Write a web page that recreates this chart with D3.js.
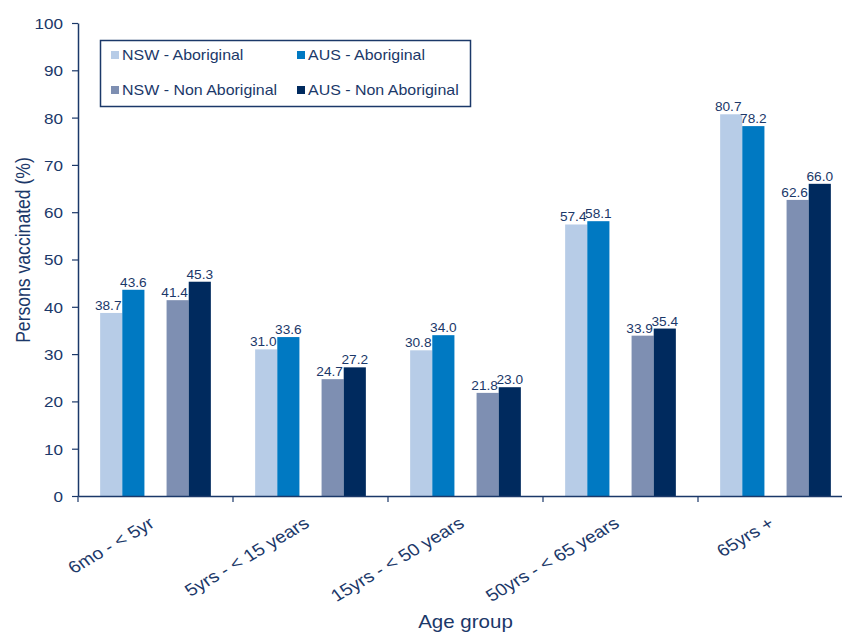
<!DOCTYPE html>
<html>
<head>
<meta charset="utf-8">
<script src="https://cdn.jsdelivr.net/npm/d3@7"></script>
<style>
  html, body { margin: 0; padding: 0; background: #fff; }
  svg { display: block; font-family: Arial, "Liberation Sans", Helvetica, sans-serif; }
</style>
</head>
<body>
<svg id="chart" width="842" height="635"></svg>
<script>
const categories = ["6mo - < 5yr", "5yrs - < 15 years", "15yrs - < 50 years", "50yrs - < 65 years", "65yrs +"];
const seriesNames = ["NSW - Aboriginal", "AUS - Aboriginal", "NSW - Non Aboriginal", "AUS - Non Aboriginal"];
const nswAboriginal    = [38.7, 31.0, 30.8, 57.4, 80.7];
const ausAboriginal    = [43.6, 33.6, 34.0, 58.1, 78.2];
const nswNonAboriginal = [41.4, 24.7, 21.8, 33.9, 62.6];
const ausNonAboriginal = [45.3, 27.2, 23.0, 35.4, 66.0];
const yTicks = [0, 10, 20, 30, 40, 50, 60, 70, 80, 90, 100];

const seriesValues = [nswAboriginal, ausAboriginal, nswNonAboriginal, ausNonAboriginal];
const colors = ["#b7cce7", "#0079c2", "#7e8fb2", "#002a5e"];
const ink = "#1b3869";
const SX = 1.14; // text in the reference is slightly wide

const svg = d3.select("#chart");
const mLeft = 78, mRight = 853, mTop = 23, mBottom = 496;

const x0 = d3.scaleBand().domain(categories).range([mLeft, mRight]).padding(0);
// each group split into 7 slots: pad, bar, bar, gap, bar, bar, pad
const slot = d3.scaleBand().domain(d3.range(7)).range([0, x0.bandwidth()]).padding(0);
const slotOf = [1, 2, 4, 5];
const y = d3.scaleLinear().domain([0, 100]).range([mBottom, mTop]);

const data = [];
categories.forEach((c, i) => {
  seriesValues.forEach((vals, s) => data.push({cat: c, s, v: vals[i]}));
});

// bars
svg.append("g").selectAll("rect").data(data).join("rect")
  .attr("x", d => x0(d.cat) + slot(slotOf[d.s]))
  .attr("y", d => y(d.v))
  .attr("width", slot.bandwidth())
  .attr("height", d => y(0) - y(d.v))
  .attr("fill", d => colors[d.s]);

// value labels
svg.append("g").selectAll("text").data(data).join("text")
  .attr("transform", d => {
    const cx = x0(d.cat) + slot(slotOf[d.s]) + slot.bandwidth() / 2 + (d.s % 2 === 0 ? -3 : 0);
    return `translate(${cx},${y(d.v) - 3}) scale(${SX},1)`;
  })
  .attr("text-anchor", "middle")
  .attr("font-size", 12)
  .attr("fill", ink)
  .text(d => d.v.toFixed(1));

// y axis
const yAxis = svg.append("g").attr("transform", `translate(${mLeft},0)`)
  .call(d3.axisLeft(y).tickValues(yTicks).tickSize(6).tickSizeOuter(0));
yAxis.attr("font-family", null);
yAxis.select(".domain").attr("stroke", ink).attr("stroke-width", 1.5);
yAxis.selectAll(".tick line").attr("stroke", ink).attr("stroke-width", 1.2);
yAxis.selectAll(".tick text")
  .attr("x", 0).attr("dy", "0.36em")
  .attr("transform", `translate(-15,0) scale(${SX},1)`)
  .attr("fill", ink).attr("font-size", 15);

// x axis
const xAxis = svg.append("g").attr("transform", `translate(0,${mBottom})`)
  .call(d3.axisBottom(x0).tickSize(0).tickFormat(""));
xAxis.select(".domain").attr("stroke", ink).attr("stroke-width", 1.5);
xAxis.selectAll(".tick").remove();
const bounds = categories.map(c => x0(c));
xAxis.selectAll("line.bound").data(bounds).join("line")
  .attr("class", "bound")
  .attr("x1", d => d).attr("x2", d => d)
  .attr("y1", 0).attr("y2", 6)
  .attr("stroke", ink).attr("stroke-width", 1.2);

// x category labels
svg.append("g").selectAll("text").data(categories).join("text")
  .attr("transform", c => `translate(${x0(c) + x0.bandwidth() / 2},${mBottom + 30}) scale(${SX},1) rotate(-34)`)
  .attr("text-anchor", "end")
  .attr("font-size", 17)
  .attr("fill", ink)
  .text(c => c);

// axis titles
svg.append("text")
  .attr("transform", `translate(30,250) scale(${SX},1) rotate(-90)`)
  .attr("text-anchor", "middle")
  .attr("font-size", 17.6)
  .attr("fill", ink)
  .text("Persons vaccinated (%)");

svg.append("text")
  .attr("transform", `translate(${(mLeft + mRight) / 2},628) scale(${SX},1)`)
  .attr("text-anchor", "middle")
  .attr("font-size", 18)
  .attr("fill", ink)
  .text("Age group");

// legend
const lg = svg.append("g");
lg.append("rect").attr("x", 100.5).attr("y", 40.5).attr("width", 370).attr("height", 66)
  .attr("fill", "#fff").attr("stroke", ink).attr("stroke-width", 1.5);
const legPos = [[111, 60], [297, 60], [111, 95], [297, 95]];
seriesNames.forEach((n, i) => {
  lg.append("rect").attr("x", legPos[i][0]).attr("y", legPos[i][1] - 9).attr("width", 8).attr("height", 8)
    .attr("fill", colors[i]);
  lg.append("text")
    .attr("transform", `translate(${legPos[i][0] + 11},${legPos[i][1]}) scale(${SX},1)`)
    .attr("font-size", 14).attr("fill", ink).text(n);
});
</script>
</body>
</html>
